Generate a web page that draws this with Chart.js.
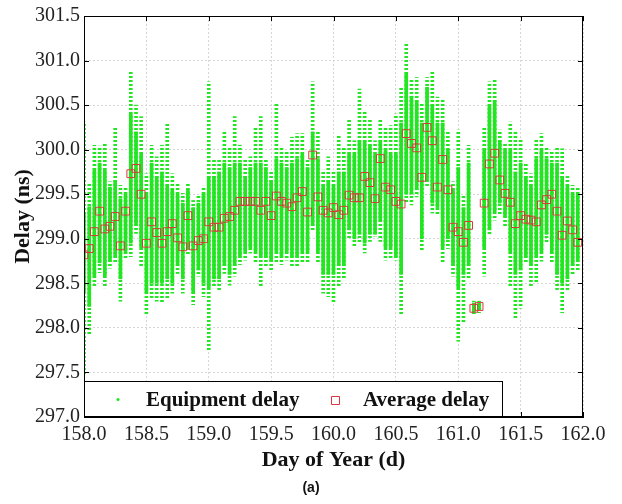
<!DOCTYPE html>
<html>
<head>
<meta charset="utf-8">
<script src="https://cdn.jsdelivr.net/npm/chart.js@4.4.1/dist/chart.umd.min.js"></script>
<style>
  html, body { margin: 0; padding: 0; background: #fff; }
  #wrap { position: relative; width: 622px; height: 504px; }
</style>
</head>
<body>
<div id="wrap"><canvas id="graficaRetardo" width="622" height="504"></canvas></div>
<script>
// ─────────────────────────────────────────
// DATOS (una columna por hora, días 158–161)
// ─────────────────────────────────────────

const dayOfYear = [
  158.000, 158.042, 158.083, 158.125, 158.167, 158.208, 158.250, 158.292, 158.333, 158.375, 158.417, 158.458,
  158.500, 158.542, 158.583, 158.625, 158.667, 158.708, 158.750, 158.792, 158.833, 158.875, 158.917, 158.958,
  159.000, 159.042, 159.083, 159.125, 159.167, 159.208, 159.250, 159.292, 159.333, 159.375, 159.417, 159.458,
  159.500, 159.542, 159.583, 159.625, 159.667, 159.708, 159.750, 159.792, 159.833, 159.875, 159.917, 159.958,
  160.000, 160.042, 160.083, 160.125, 160.167, 160.208, 160.250, 160.292, 160.333, 160.375, 160.417, 160.458,
  160.500, 160.542, 160.583, 160.625, 160.667, 160.708, 160.750, 160.792, 160.833, 160.875, 160.917, 160.958,
  161.000, 161.042, 161.083, 161.125, 161.167, 161.208, 161.250, 161.292, 161.333, 161.375, 161.417, 161.458,
  161.500, 161.542, 161.583, 161.625, 161.667, 161.708, 161.750, 161.792, 161.833, 161.875, 161.917, 161.958
];

// extremos de los puntos sueltos de cada hora (ns)
const delayMin = [
  297.47, 297.93, 298.47, 298.62, 298.45, 298.67, 298.72, 298.30, 298.78, 298.80, 299.06, 298.69,
  298.15, 298.32, 298.30, 298.28, 298.33, 298.39, 298.61, 298.39, 298.83, 298.26, 298.58, 298.35,
  297.74, 298.45, 298.43, 298.61, 298.48, 298.58, 298.71, 298.76, 298.84, 298.72, 298.46, 298.69,
  298.65, 298.72, 298.71, 298.76, 298.69, 298.69, 298.72, 298.74, 299.10, 298.72, 298.39, 298.35,
  298.28, 298.46, 298.54, 298.99, 298.91, 298.95, 298.84, 298.97, 299.03, 298.97, 298.76, 298.77,
  298.76, 298.15, 299.40, 299.38, 299.47, 298.86, 299.58, 299.29, 299.27, 298.73, 298.89, 298.58,
  297.85, 298.06, 298.56, 298.15, 298.17, 298.58, 299.04, 299.21, 299.27, 299.14, 298.47, 298.10,
  298.22, 298.73, 298.47, 298.50, 298.75, 298.95, 298.73, 298.43, 298.17, 298.43, 298.60, 298.65
];
const delayMax = [
  300.31, 299.62, 300.05, 300.04, 300.07, 299.64, 300.25, 299.60, 299.58, 300.89, 300.50, 300.37,
  299.73, 300.05, 299.92, 300.05, 300.29, 299.73, 299.62, 299.51, 299.62, 299.43, 299.49, 299.58,
  300.76, 299.88, 299.88, 300.20, 300.03, 300.37, 300.05, 299.90, 299.92, 300.24, 300.37, 299.90,
  299.75, 300.51, 300.03, 299.97, 300.14, 300.18, 300.18, 299.88, 300.76, 300.20, 299.77, 299.92,
  299.75, 300.16, 300.03, 300.35, 300.10, 300.68, 300.44, 300.33, 300.10, 300.33, 300.26, 300.27,
  300.40, 300.70, 301.19, 300.80, 300.81, 300.53, 300.81, 300.87, 300.59, 300.57, 300.20, 299.64,
  300.22, 299.49, 300.05, 298.30, 298.30, 300.24, 300.76, 300.80, 300.22, 300.07, 300.31, 300.20,
  300.12, 299.85, 299.73, 300.12, 300.18, 300.03, 299.98, 300.03, 300.01, 299.70, 299.60, 299.58
];

// franja densa de cada hora (ns)
const delayLow = [
  298.40, 298.24, 298.58, 298.73, 298.58, 298.75, 298.80, 298.55, 298.85, 298.95, 299.15, 298.90,
  298.40, 298.50, 298.50, 298.50, 298.55, 298.50, 298.70, 298.55, 298.90, 298.40, 298.65, 298.50,
  298.45, 298.55, 298.55, 298.70, 298.60, 298.70, 298.80, 298.85, 298.90, 298.85, 298.80, 298.80,
  298.75, 298.85, 298.80, 298.85, 298.80, 298.80, 298.85, 298.85, 299.15, 298.85, 298.60, 298.60,
  298.60, 298.70, 298.70, 299.10, 299.00, 299.05, 298.95, 299.05, 299.05, 299.20, 298.90, 298.90,
  298.80, 298.60, 299.50, 299.50, 299.55, 299.00, 299.65, 299.40, 299.35, 298.90, 299.00, 298.70,
  298.45, 298.60, 298.70, 298.18, 298.20, 298.90, 299.10, 299.30, 299.40, 299.25, 298.85, 298.60,
  298.65, 298.80, 298.70, 298.80, 298.85, 299.05, 298.85, 298.60, 298.50, 298.55, 298.70, 298.75
];
const delayHigh = [
  299.30, 299.36, 299.77, 299.85, 299.77, 299.58, 299.65, 299.45, 299.50, 300.40, 300.20, 299.95,
  299.50, 299.85, 299.70, 299.75, 299.60, 299.55, 299.50, 299.40, 299.55, 299.35, 299.40, 299.50,
  299.70, 299.70, 299.75, 299.85, 299.80, 299.85, 299.85, 299.70, 299.80, 299.85, 299.85, 299.80,
  299.65, 299.90, 299.85, 299.80, 299.85, 299.90, 299.95, 299.80, 300.20, 299.90, 299.60, 299.65,
  299.60, 299.75, 299.75, 299.95, 299.95, 300.10, 300.10, 300.05, 299.95, 300.10, 300.00, 299.95,
  299.95, 300.30, 300.85, 300.60, 300.55, 300.30, 300.70, 300.50, 300.30, 300.30, 300.00, 299.55,
  299.80, 299.35, 299.85, 298.28, 298.28, 300.00, 300.50, 300.55, 300.10, 300.00, 300.00, 299.75,
  299.85, 299.70, 299.60, 299.90, 300.00, 299.90, 299.85, 299.85, 299.70, 299.60, 299.50, 299.50
];

// promedio horario (ns)
const avgDelay = [
  298.82, 298.89, 299.08, 299.31, 299.11, 299.14, 299.25, 298.92, 299.31, 299.73, 299.79, 299.50,
  298.95, 299.19, 299.07, 298.95, 299.08, 299.17, 299.01, 298.91, 299.26, 298.92, 298.98, 299.00,
  299.19, 299.13, 299.13, 299.23, 299.25, 299.32, 299.42, 299.42, 299.42, 299.42, 299.32, 299.42,
  299.26, 299.48, 299.42, 299.40, 299.36, 299.46, 299.53, 299.30, 299.94, 299.47, 299.32, 299.29,
  299.35, 299.27, 299.32, 299.49, 299.46, 299.46, 299.70, 299.63, 299.45, 299.90, 299.58, 299.55,
  299.42, 299.39, 300.18, 300.07, 300.02, 299.69, 300.25, 300.10, 299.58, 299.89, 299.55, 299.13,
  299.08, 298.96, 299.15, 298.22, 298.24, 299.40, 299.84, 299.96, 299.66, 299.51, 299.41, 299.17,
  299.26, 299.22, 299.21, 299.19, 299.38, 299.44, 299.50, 299.31, 299.04, 299.20, 299.10, 298.96
];

const xTicks = [158.0, 158.5, 159.0, 159.5, 160.0, 160.5, 161.0, 161.5, 162.0];
const yTicks = [297.0, 297.5, 298.0, 298.5, 299.0, 299.5, 300.0, 300.5, 301.0, 301.5];

// ─────────────────────────────────────────
// ESTILO
// ─────────────────────────────────────────

const VERDE = "#22e622";
const ROJO  = "#d8383c";
const SERIF = "'Liberation Serif', 'Times New Roman', serif";

const canvas = document.getElementById("graficaRetardo");
const ctx    = canvas.getContext("2d");

// puntos sueltos: franja verde cortada cada 4 px
function patronPuntos() {
  const tile = document.createElement("canvas");
  tile.width = 3; tile.height = 4;
  const g = tile.getContext("2d");
  g.fillStyle = VERDE;
  g.fillRect(0, 0, 3, 2);
  return ctx.createPattern(tile, "repeat");
}

// marco negro, ticks hacia adentro y leyenda dentro del área
const marco = {
  id: "marco",
  afterDatasetsDraw(chart) {
    const { chartArea: a, scales: { x, y } } = chart;
    const c = chart.ctx;
    c.save();

    c.strokeStyle = "#000";
    c.lineWidth = 1;
    c.beginPath();
    x.ticks.forEach(t => {
      const px = Math.round(x.getPixelForValue(t.value)) + 0.5;
      c.moveTo(px, a.bottom); c.lineTo(px, a.bottom - 5);
      c.moveTo(px, a.top);    c.lineTo(px, a.top + 5);
    });
    y.ticks.forEach(t => {
      const py = Math.round(y.getPixelForValue(t.value)) + 0.5;
      c.moveTo(a.left, py);  c.lineTo(a.left + 5, py);
      c.moveTo(a.right, py); c.lineTo(a.right - 5, py);
    });
    c.stroke();

    // caja de la leyenda
    const bx = a.left + 0.5, by = 381.5, bw = 418, bh = a.bottom - 381;
    c.fillStyle = "#fff";
    c.fillRect(bx, by, bw, bh);
    c.strokeStyle = "#000";
    c.strokeRect(bx, by, bw, bh);

    const ds = chart.data.datasets;
    const cy = by + bh / 2;
    c.font = "bold 21px " + SERIF;
    c.textBaseline = "middle";

    c.fillStyle = VERDE;
    c.beginPath();
    c.arc(118, cy, 1.6, 0, Math.PI * 2);
    c.fill();
    c.fillStyle = "#111";
    c.fillText(ds[0].label, 146, cy + 1);

    c.lineWidth = 1;
    c.strokeStyle = ROJO;
    c.beginPath();
    c.rect(331.5, Math.round(cy - 4) + 0.5, 8, 8);
    c.stroke();
    c.fillStyle = "#111";
    c.fillText(ds[2].label, 363, cy + 1);

    // borde del área de trazado
    c.strokeStyle = "#000";
    c.strokeRect(a.left + 0.5, a.top + 0.5, a.width - 1, a.height - 1);
    c.restore();
  },
  afterDraw(chart) {
    const c = chart.ctx;
    c.save();
    c.font = "bold 14px 'Liberation Sans', Arial, sans-serif";
    c.fillStyle = "#111";
    c.textAlign = "center";
    c.textBaseline = "middle";
    c.fillText("(a)", 311, 488);
    c.restore();
  }
};

// ─────────────────────────────────────────
// GRÁFICA
// ─────────────────────────────────────────

const franjaSuelta = dayOfYear.map((d, i) => ({ x: d, y: [delayMin[i], delayMax[i]] }));
const franjaDensa  = dayOfYear.map((d, i) => ({ x: d, y: [delayLow[i], delayHigh[i]] }));
const promedios    = dayOfYear.map((d, i) => ({ x: d, y: avgDelay[i] }));

new Chart(canvas, {
  type: "bar",
  data: {
    datasets: [
      {
        label: "Equipment delay",
        data: franjaSuelta,
        backgroundColor: patronPuntos(),
        borderWidth: 0,
        barThickness: 3,
        grouped: false,
        order: 3
      },
      {
        label: "Equipment delay (core)",
        data: franjaDensa,
        backgroundColor: VERDE,
        borderWidth: 0,
        barThickness: 3,
        grouped: false,
        order: 2
      },
      {
        type: "line",
        label: "Average delay",
        data: promedios,
        showLine: false,
        pointStyle: "rect",
        pointRadius: 5.5,
        pointBorderWidth: 1,
        pointBorderColor: ROJO,
        pointBackgroundColor: "rgba(0,0,0,0)",
        order: 1
      }
    ]
  },
  options: {
    responsive: false,
    animation: false,
    layout: { padding: { left: 0, right: 39, top: 15, bottom: 0 } },
    plugins: {
      legend: { display: false },
      tooltip: { enabled: false }
    },
    scales: {
      x: {
        type: "linear",
        min: 158,
        max: 162,
        offset: false,
        afterBuildTicks: s => { s.ticks = xTicks.map(v => ({ value: v })); },
        afterFit: s => { s.height = 87; },
        ticks: {
          callback: v => v.toFixed(1),
          color: "#222",
          padding: 6,
          maxRotation: 0,
          font: { family: SERIF, size: 20 }
        },
        grid: { color: "#d6d6d6", drawTicks: false, offset: false },
        border: { display: true, color: "#000", dash: [2, 2] },
        title: {
          display: true,
          text: "Day of Year (d)",
          color: "#111",
          padding: { top: 0, bottom: 30 },
          font: { family: SERIF, size: 22, weight: "bold" }
        }
      },
      y: {
        min: 297,
        max: 301.5,
        afterBuildTicks: s => { s.ticks = yTicks.map(v => ({ value: v })); },
        afterFit: s => { s.width = 84; },
        ticks: {
          callback: v => v.toFixed(1),
          color: "#222",
          padding: 4,
          font: { family: SERIF, size: 20 }
        },
        grid: { color: "#d6d6d6", drawTicks: false },
        border: { display: true, color: "#000", dash: [2, 2] },
        title: {
          display: true,
          text: "Delay (ns)",
          color: "#111",
          padding: { top: 10, bottom: 0 },
          font: { family: SERIF, size: 22, weight: "bold" }
        }
      }
    }
  },
  plugins: [marco]
});
</script>
</body>
</html>
